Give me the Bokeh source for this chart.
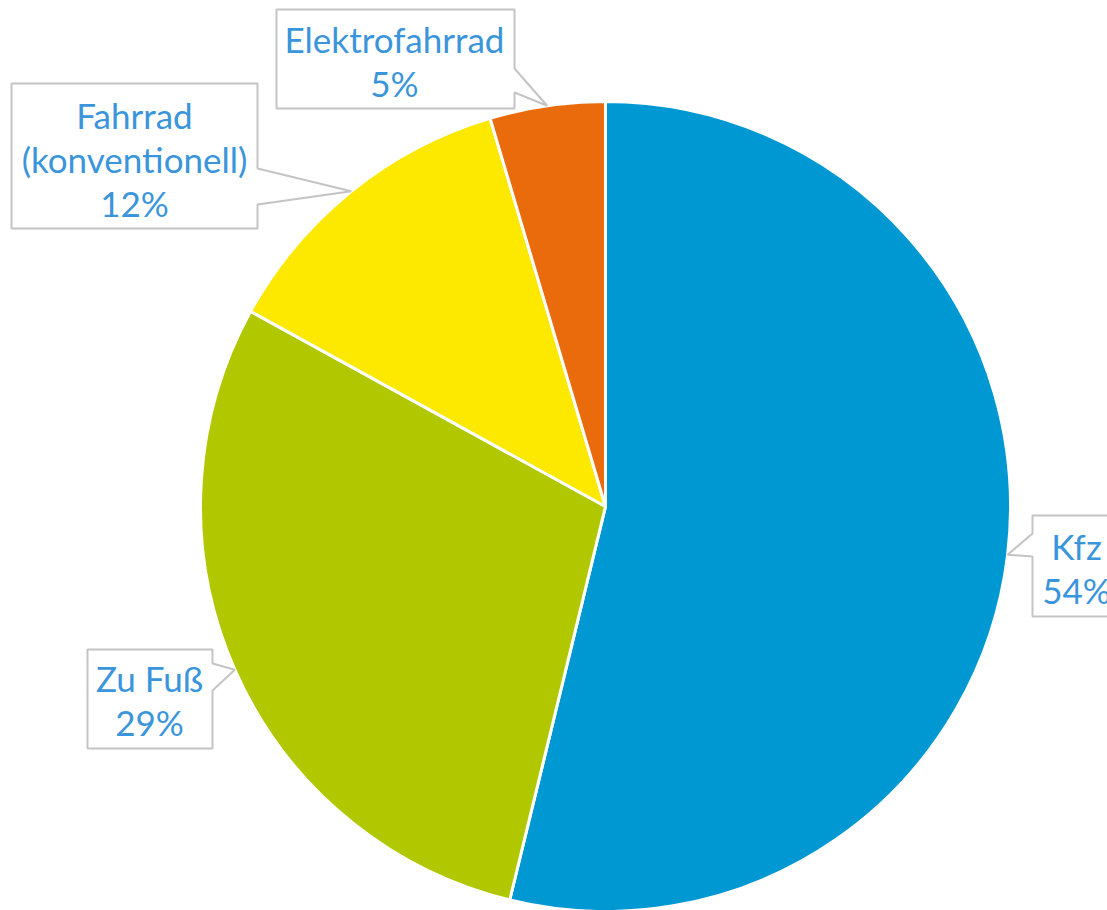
import math
from bokeh.plotting import figure
from bokeh.models import Range1d, ColumnDataSource
from bokeh.core.properties import value
from bokeh.embed import file_html
from bokeh.resources import INLINE

# ---- data ----
categories = ["Kfz", "Zu Fuß", "Fahrrad\n(konventionell)", "Elektrofahrrad"]
shares = [53.8, 29.2, 12.4, 4.6]
colors = ["#0098d3", "#b1c800", "#fde900", "#e96b0b"]

# ---- layout (screen pixels) ----
W, H = 1107, 910
CX, CY, R = 605, 506, 405
# callout boxes: left, top, right, bottom, side of pointer, pointer base y1, y2
boxes = [
    (1032, 515, 1122, 616, "left", 533, 556),
    (87, 649, 212, 748, "right", 663, 690),
    (11, 83, 257, 228, "right", 168, 204),
    (276, 9, 514, 108, "right", 68, 92),
]
text_centers = [(1076, 567), (149, 699), (134, 158), (394, 60)]
LINE_H = 44

def Y(y):
    return H - y

p = figure(width=W, height=H, x_range=Range1d(0, W), y_range=Range1d(0, H),
           x_axis_type=None, y_axis_type=None, toolbar_location=None,
           output_backend="svg", min_border=0)
p.outline_line_color = None
p.background_fill_color = "white"
p.border_fill_color = "white"

total = float(sum(shares))
starts, ends, mids = [], [], []
cum = 0.0
for s in shares:
    a0 = math.pi / 2 - 2 * math.pi * cum / total
    cum += s
    a1 = math.pi / 2 - 2 * math.pi * cum / total
    starts.append(a0)
    ends.append(a1)
    mids.append((a0 + a1) / 2)

src = ColumnDataSource(dict(start=starts, end=ends, color=colors))
p.wedge(x=CX, y=Y(CY), radius=R, start_angle="start", end_angle="end",
        direction="clock", fill_color="color", line_color="white", line_width=3,
        source=src)

xs, ys = [], []
for (L, T, Rr, B, side, b1, b2), m in zip(boxes, mids):
    tx = CX + R * math.cos(m)
    ty = CY - R * math.sin(m)
    if side == "right":
        pts = [(L, T), (Rr, T), (Rr, b1), (tx, ty), (Rr, b2), (Rr, B), (L, B)]
    else:
        pts = [(L, T), (Rr, T), (Rr, B), (L, B), (L, b2), (tx, ty), (L, b1)]
    xs.append([q[0] for q in pts])
    ys.append([Y(q[1]) for q in pts])
p.patches(xs, ys, fill_color="white", line_color="#c4c4c4", line_width=2)

tx_, ty_, tt_ = [], [], []
for cat, s, (cx, cy) in zip(categories, shares, text_centers):
    lines = cat.split("\n") + [f"{round(s)}%"]
    n = len(lines)
    for i, ln in enumerate(lines):
        tx_.append(cx)
        ty_.append(Y(cy + (i - (n - 1) / 2) * LINE_H))
        tt_.append(ln)
p.text(x=tx_, y=ty_, text=tt_, text_align="center", text_baseline="middle",
       text_font=value("Lato"), text_font_size="35px", text_color="#3a95db")

open("out.html", "w").write(file_html(p, INLINE))
